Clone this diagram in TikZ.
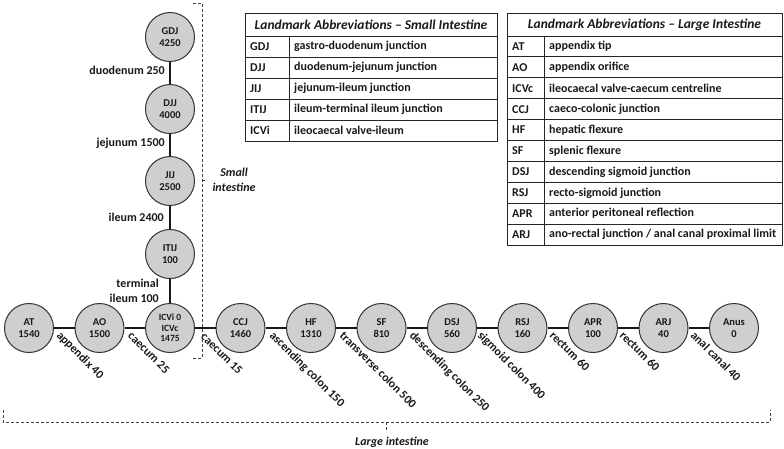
\documentclass[tikz,border=0pt]{standalone}
\usepackage{fontspec}
\setmainfont{Carlito}
\begin{document}
\begin{tikzpicture}[x=1pt,y=-1pt,
  lm/.style={circle, draw=black!80, fill=black!19, line width=1pt, minimum size=49pt, inner sep=0pt, align=center, text=black!90, font=\bfseries\fontsize{10.5}{12}\selectfont},
  lmsmall/.style={lm, font=\bfseries\fontsize{9.5}{10.5}\selectfont},
  conn/.style={line width=1.7pt, black!90},
  elab/.style={font=\bfseries\fontsize{12}{15}\selectfont, inner sep=0pt, text=black!90},
  rlab/.style={elab, rotate=-45, anchor=north west},
  brk/.style={densely dashed, line width=0.9pt, black!75},
  brlab/.style={font=\bfseries\itshape\fontsize{12}{15}\selectfont, inner sep=0pt, align=center, text=black!90},
  tabline/.style={draw=black!85, line width=1pt},
  cell/.style={font=\bfseries\fontsize{12}{14}\selectfont, anchor=west, inner sep=0pt, text=black!90},
  head/.style={font=\bfseries\itshape\fontsize{13.5}{15}\selectfont, inner sep=0pt, text=black!90},
]
\useasboundingbox (0,0) rectangle (784,448);

% ---------- landmark nodes (large intestine row) ----------
\node[lm] (AT) at (29,328) {AT\\1540};
\node[lm] (AO) at (99.5,328) {AO\\1500};
\node[lmsmall] (ICV) at (170,328) {ICVi 0\\ICVc\\1475};
\node[lm] (CCJ) at (240.5,328) {CCJ\\1460};
\node[lm] (HF) at (311,328) {HF\\1310};
\node[lm] (SF) at (381.5,328) {SF\\810};
\node[lm] (DSJ) at (452,328) {DSJ\\560};
\node[lm] (RSJ) at (522.5,328) {RSJ\\160};
\node[lm] (APR) at (593,328) {APR\\100};
\node[lm] (ARJ) at (663.5,328) {ARJ\\40};
\node[lm] (Anus) at (734,328) {Anus\\0};

% ---------- small intestine column ----------
\node[lm] (GDJ) at (170,37) {GDJ\\4250};
\node[lm] (DJJ) at (170,109) {DJJ\\4000};
\node[lm] (JIJ) at (170,181) {JIJ\\2500};
\node[lm] (ITIJ) at (170,254) {ITIJ\\100};

% ---------- connectors ----------
\draw[conn] (GDJ) -- (DJJ);
\draw[conn] (DJJ) -- (JIJ);
\draw[conn] (JIJ) -- (ITIJ);
\draw[conn] (ITIJ) -- (ICV);
\draw[conn] (AT) -- (AO);
\draw[conn] (AO) -- (ICV);
\draw[conn] (ICV) -- (CCJ);
\draw[conn] (CCJ) -- (HF);
\draw[conn] (HF) -- (SF);
\draw[conn] (SF) -- (DSJ);
\draw[conn] (DSJ) -- (RSJ);
\draw[conn] (RSJ) -- (APR);
\draw[conn] (APR) -- (ARJ);
\draw[conn] (ARJ) -- (Anus);

% ---------- segment labels (vertical) ----------
\node[elab, anchor=base east] (l1) at (165,74) {duodenum 250};
\node[elab, anchor=base east] (l2) at (165,146.5) {jejunum 1500};
\node[elab, anchor=base east] (l3) at (164,221.5) {ileum 2400};
\node[elab, anchor=south east, align=right] (l4) at (159,302.5) {terminal\\ileum 100};

% ---------- segment labels (rotated) ----------
\node[rlab] (r1) at (62,330) {appendix 40};
\node[rlab] (r2) at (133,331) {caecum 25};
\node[rlab] (r3) at (206,332) {caecum 15};
\node[rlab] (r4) at (275,330) {ascending colon 150};
\node[rlab] (r5) at (345,330) {transverse colon 500};
\node[rlab] (r6) at (415,330) {descending colon 250};
\node[rlab] (r7) at (483,330) {sigmoid colon 400};
\node[rlab] (r8) at (555,330) {rectum 60};
\node[rlab] (r9) at (625,330) {rectum 60};
\node[rlab] (r10) at (696,330) {anal canal 40};

% ---------- brackets ----------
\draw[brk] (193,3) -- (202,3) -- (202,358) -- (193,358);
\draw[brk] (202,180) -- (207,180);
\node[brlab] (smalllab) at (234,180) {Small\\intestine};

\draw[brk] (3,410) -- (3,422) -- (770,422) -- (770,410);
\draw[brk] (386,422) -- (386,432);
\node[brlab, anchor=base] (largelab) at (392,445) {Large intestine};

% ---------- table: small intestine ----------
\draw[tabline] (245,13) rectangle (497,141);
\draw[tabline] (245,36) -- (497,36);
\foreach \y in {57,78,99,120} \draw[tabline] (245,\y) -- (497,\y);
\draw[tabline] (289,36) -- (289,141);
\node[head] (sth) at (371,24.5) {Landmark Abbreviations -- Small Intestine};
\foreach \i/\a/\d in {0/GDJ/{gastro-duodenum junction},1/DJJ/{duodenum-jejunum junction},2/JIJ/{jejunum-ileum junction},3/ITIJ/{ileum-terminal ileum junction},4/ICVi/{ileocaecal valve-ileum}}{
  \node[cell] (sa\i) at (250,46.5+21*\i) {\a};
  \node[cell] (sd\i) at (294,46.5+21*\i) {\d};
}

% ---------- table: large intestine ----------
\draw[tabline] (507,13) rectangle (782,245);
\draw[tabline] (507,36) -- (782,36);
\foreach \k in {1,...,9} \draw[tabline] (507,36+20.9*\k) -- (782,36+20.9*\k);
\draw[tabline] (544,36) -- (544,245);
\node[head] (lth) at (644.5,24.5) {Landmark Abbreviations -- Large Intestine};
\foreach \i/\a/\d in {0/AT/{appendix tip},1/AO/{appendix orifice},2/ICVc/{ileocaecal valve-caecum centreline},3/CCJ/{caeco-colonic junction},4/HF/{hepatic flexure},5/SF/{splenic flexure},6/DSJ/{descending sigmoid junction},7/RSJ/{recto-sigmoid junction},8/APR/{anterior peritoneal reflection},9/ARJ/{ano-rectal junction / anal canal proximal limit}}{
  \node[cell] (la\i) at (512,46.5+20.9*\i) {\a};
  \node[cell] (ld\i) at (549,46.5+20.9*\i) {\d};
}
\end{tikzpicture}
\end{document}
